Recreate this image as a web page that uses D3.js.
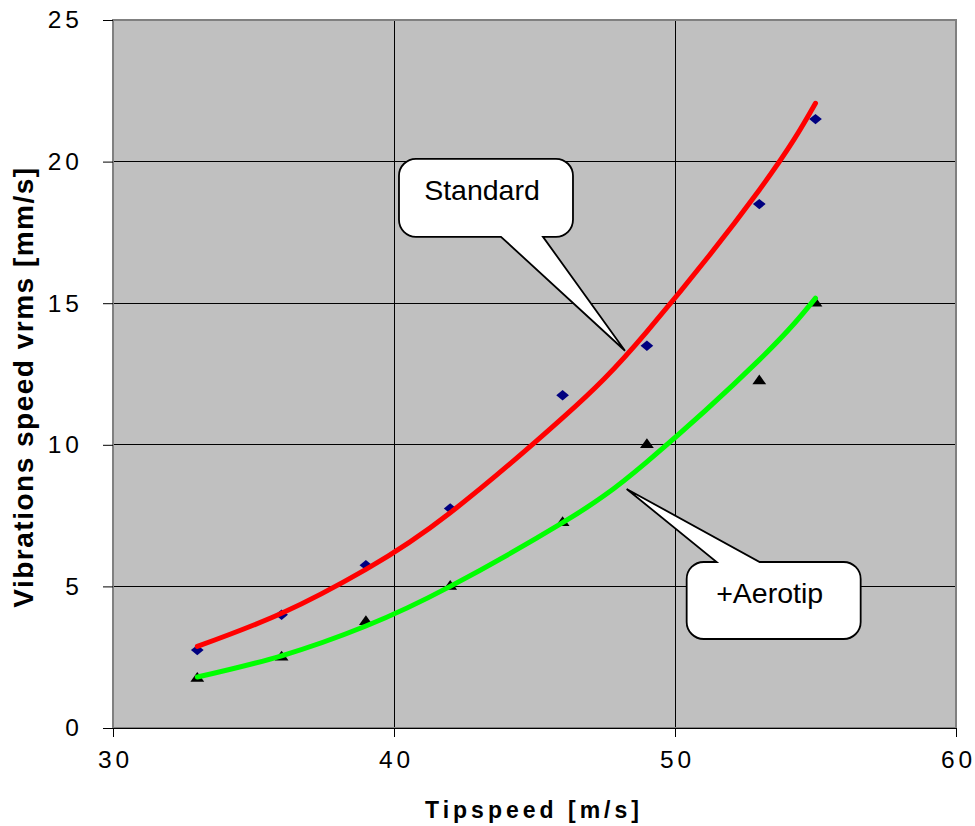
<!DOCTYPE html>
<html>
<head>
<meta charset="utf-8">
<script src="https://cdn.jsdelivr.net/npm/d3@7"></script>
<style>
  body { margin: 0; background: #fff; }
  svg { display: block; font-family: "Liberation Sans", Arial, sans-serif; }
</style>
</head>
<body>
<svg id="chart"></svg>
<script>
// measured tip speeds and vibration levels
const tipspeed = [33, 36, 39, 42, 46, 49, 53, 55];
const standardVrms = [2.75, 4.0, 5.75, 7.75, 11.75, 13.5, 18.5, 21.5];
const aerotipVrms = [1.75, 2.5, 3.75, 5.0, 7.25, 10.0, 12.25, 15.0];

// trendlines at the same speeds
const standardTrend = [2.88, 4.05, 5.6, 7.6, 10.95, 14.0, 19.0, 22.06];
const aerotipTrend = [1.8, 2.55, 3.6, 5.0, 7.25, 9.4, 13.0, 15.18];

const xTicks = [30, 40, 50, 60];
const yTicks = [0, 5, 10, 15, 20, 25];

const width = 975;
const height = 826;
const margin = { top: 20, right: 19, bottom: 98, left: 113 };

const svg = d3.select('#chart').attr('width', width).attr('height', height);

const x = d3.scaleLinear().domain([30, 60]).range([margin.left, width - margin.right]);
const y = d3.scaleLinear().domain([0, 25]).range([height - margin.bottom, margin.top]);

const plotW = x(60) - x(30);
const plotH = y(0) - y(25);

// plot background
svg.append('rect')
    .attr('x', x(30)).attr('y', y(25))
    .attr('width', plotW).attr('height', plotH)
    .attr('fill', '#c0c0c0');

// gridlines
svg.append('g')
    .selectAll('line')
    .data(yTicks.filter((d) => d > 0 && d < 25))
    .join('line')
    .attr('x1', x(30)).attr('x2', x(60))
    .attr('y1', (d) => y(d)).attr('y2', (d) => y(d))
    .attr('stroke', '#000').attr('stroke-width', 1).attr('shape-rendering', 'crispEdges');

svg.append('g')
    .selectAll('line')
    .data(xTicks.filter((d) => d > 30 && d < 60))
    .join('line')
    .attr('x1', (d) => x(d)).attr('x2', (d) => x(d))
    .attr('y1', y(0)).attr('y2', y(25))
    .attr('stroke', '#000').attr('stroke-width', 1).attr('shape-rendering', 'crispEdges');

// plot frame
svg.append('rect')
    .attr('x', x(30)).attr('y', y(25))
    .attr('width', plotW).attr('height', plotH)
    .attr('fill', 'none').attr('stroke', '#808080').attr('stroke-width', 2);

// axes
const yAxis = svg.append('g')
    .attr('transform', `translate(${x(30)},0)`)
    .call(d3.axisLeft(y).tickValues(yTicks).tickSize(10).tickPadding(20).tickFormat(d3.format('d')));
yAxis.select('.domain').remove();
yAxis.selectAll('.tick line').attr('stroke', '#000');
yAxis.selectAll('.tick text')
    .attr('fill', '#000')
    .style('font-size', '24.5px')
    .style('letter-spacing', '4px')
    .style('font-family', '"Liberation Sans", Arial, sans-serif');

const xAxis = svg.append('g')
    .attr('transform', `translate(0,${y(0)})`)
    .call(d3.axisBottom(x).tickValues(xTicks).tickSize(9).tickPadding(14).tickFormat(d3.format('d')));
xAxis.select('.domain').attr('stroke', '#000').attr('stroke-width', 1);
xAxis.selectAll('.tick line').attr('stroke', '#000');
xAxis.selectAll('.tick text')
    .attr('fill', '#000')
    .attr('dx', '2px')
    .style('font-size', '24.5px')
    .style('letter-spacing', '4px')
    .style('font-family', '"Liberation Sans", Arial, sans-serif');

// axis titles
svg.append('text')
    .attr('x', 534).attr('y', 818)
    .attr('text-anchor', 'middle')
    .style('font-size', '23px').style('font-weight', 'bold').style('letter-spacing', '4px')
    .text('Tipspeed [m/s]');

svg.append('text')
    .attr('transform', 'translate(33,387) rotate(-90)')
    .attr('text-anchor', 'middle')
    .style('font-size', '28px').style('font-weight', 'bold').style('letter-spacing', '1.5px')
    .text('Vibrations speed vrms [mm/s]');

// markers
const diamond = d3.symbol().type(d3.symbolDiamond2).size(85);
const triangle = d3.symbol().type(d3.symbolTriangle).size(75);

svg.append('g')
    .selectAll('path')
    .data(tipspeed.map((t, i) => [t, standardVrms[i]]))
    .join('path')
    .attr('d', diamond)
    .attr('transform', (d) => `translate(${x(d[0])},${y(d[1])}) scale(1.1,0.9)`)
    .attr('fill', '#000080');

svg.append('g')
    .selectAll('path')
    .data(tipspeed.map((t, i) => [t, aerotipVrms[i]]))
    .join('path')
    .attr('d', triangle)
    .attr('transform', (d) => `translate(${x(d[0])},${y(d[1])}) scale(1.05,0.85)`)
    .attr('fill', '#000');

// trendlines
const line = d3.line()
    .x((d) => x(d[0]))
    .y((d) => y(d[1]))
    .curve(d3.curveNatural);

svg.append('path')
    .datum(tipspeed.map((t, i) => [t, standardTrend[i]]))
    .attr('d', line)
    .attr('fill', 'none').attr('stroke', '#ff0000').attr('stroke-width', 5)
    .attr('stroke-linecap', 'round');

svg.append('path')
    .datum(tipspeed.map((t, i) => [t, aerotipTrend[i]]))
    .attr('d', line)
    .attr('fill', 'none').attr('stroke', '#00ff00').attr('stroke-width', 5)
    .attr('stroke-linecap', 'round');

// callouts: tip in data units, box as pixel offsets from the tip
const callouts = [
    { label: 'Standard', tip: [48.22, 13.32], box: [-226, -192, -52, -114], tail: 'bottom', base: [-124, -82] },
    { label: '+Aerotip', tip: [48.28, 8.44], box: [60, 73, 234, 150], tail: 'top', base: [90, 133] }
];

const calloutPath = (c) => {
    const tx = x(c.tip[0]);
    const ty = y(c.tip[1]);
    const x0 = tx + c.box[0], y0 = ty + c.box[1], x1 = tx + c.box[2], y1 = ty + c.box[3];
    const a = tx + c.base[0], b = tx + c.base[1];
    const r = 17;
    const p = d3.path();
    p.moveTo(x0 + r, y0);
    if (c.tail === 'top') {
        p.lineTo(a, y0);
        p.lineTo(tx, ty);
        p.lineTo(b, y0);
    }
    p.lineTo(x1 - r, y0);
    p.arcTo(x1, y0, x1, y0 + r, r);
    p.lineTo(x1, y1 - r);
    p.arcTo(x1, y1, x1 - r, y1, r);
    if (c.tail === 'bottom') {
        p.lineTo(b, y1);
        p.lineTo(tx, ty);
        p.lineTo(a, y1);
    }
    p.lineTo(x0 + r, y1);
    p.arcTo(x0, y1, x0, y1 - r, r);
    p.lineTo(x0, y0 + r);
    p.arcTo(x0, y0, x0 + r, y0, r);
    p.closePath();
    return p.toString();
};

const cg = svg.append('g')
    .selectAll('g')
    .data(callouts)
    .join('g');

cg.append('path')
    .attr('d', calloutPath)
    .attr('fill', '#fff').attr('stroke', '#000').attr('stroke-width', 1.8)
    .attr('stroke-linejoin', 'miter');

cg.append('text')
    .attr('x', (c) => x(c.tip[0]) + (c.box[0] + c.box[2]) / 2 - 4)
    .attr('y', (c) => y(c.tip[1]) + c.box[1] + 41)
    .attr('text-anchor', 'middle')
    .style('font-size', '28.5px')
    .attr('fill', '#000')
    .text((c) => c.label);
</script>
</body>
</html>
